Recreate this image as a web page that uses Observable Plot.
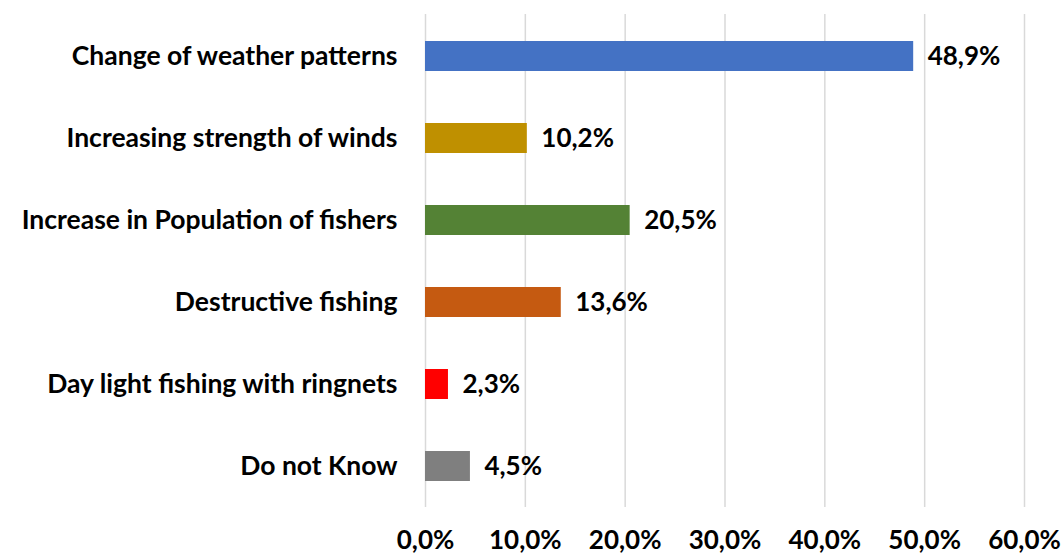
<!DOCTYPE html>
<html>
<head>
<meta charset="utf-8">
<script src="https://cdn.jsdelivr.net/npm/d3@7"></script>
<script src="https://cdn.jsdelivr.net/npm/@observablehq/plot@0.6"></script>
<style>
  html, body { margin: 0; padding: 0; background: #fff; }
  #chart svg { display: block; }
</style>
</head>
<body>
<div id="chart"></div>
<script>
const categories = [
  "Change of weather patterns",
  "Increasing strength of winds",
  "Increase in Population of fishers",
  "Destructive fishing",
  "Day light fishing with ringnets",
  "Do not Know"
];
const values = [48.9, 10.2, 20.5, 13.6, 2.3, 4.5];
const colors = ["#4472C4", "#BF9000", "#548235", "#C55A11", "#FF0000", "#7F7F7F"];
const xTicks = [0, 10, 20, 30, 40, 50, 60];

const data = categories.map((c, i) => ({category: c, value: values[i], color: colors[i]}));
const fmt = d => d.toFixed(1).replace(".", ",") + "%";
const FS = 26;

const chart = Plot.plot({
  width: 1063,
  height: 556,
  marginLeft: 425,
  marginRight: 39,
  marginTop: 14,
  marginBottom: 49,
  style: {fontFamily: "Lato, 'Open Sans', sans-serif", fontWeight: "bold", fontSize: FS + "px", color: "#000"},
  x: {domain: [0, 60], ticks: xTicks, tickFormat: fmt, label: null},
  y: {domain: categories, label: null, paddingInner: 0.635, paddingOuter: 0.3175},
  marks: [
    Plot.gridX(xTicks, {stroke: "#d9d9d9", strokeOpacity: 1, strokeWidth: 1.5}),
    Plot.barX(data, {y: "category", x: "value", fill: "color"}),
    Plot.text(data, {y: "category", x: "value", text: d => fmt(d.value), textAnchor: "start", dx: 14, fontSize: FS, fontWeight: "bold", fill: "#000"}),
    Plot.axisX(xTicks, {tickSize: 0, tickPadding: 23, tickFormat: fmt, fontSize: FS, fontWeight: "bold", label: null}),
    Plot.axisY({tickSize: 0, tickPadding: 28, fontSize: 26.5, fontWeight: "bold", label: null})
  ]
});
document.getElementById("chart").append(chart);
</script>
</body>
</html>
